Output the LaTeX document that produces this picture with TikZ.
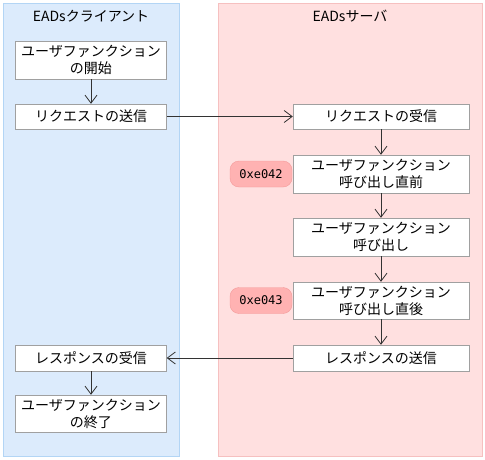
\documentclass[tikz,border=0pt]{standalone}
\usepackage{fontspec}
\setmainfont{Noto Sans CJK JP}
\newfontfamily\codefont{DejaVu Sans Mono}
\usetikzlibrary{arrows.meta}

\definecolor{clientfill}{HTML}{DCEBFC}
\definecolor{clientline}{HTML}{B3D5F5}
\definecolor{serverfill}{HTML}{FFE0E0}
\definecolor{serverline}{HTML}{F6C0C0}
\definecolor{codefill}{HTML}{FFB2B2}
\definecolor{codeline}{HTML}{F39A9A}
\definecolor{boxline}{HTML}{A0A0A0}

\begin{document}
\begin{tikzpicture}[x=1pt,y=-1pt,
  font=\fontsize{14}{17}\selectfont,
  stepbox/.style={draw=boxline,fill=white,inner sep=0pt,align=center,
    minimum height=25pt},
  clientbox/.style={stepbox,minimum width=151pt},
  serverbox/.style={stepbox,minimum width=176pt},
  codebox/.style={draw=codeline,fill=codefill,rounded corners=9pt,
    minimum width=62pt,minimum height=26pt,inner sep=0pt,
    font=\codefont\fontsize{12}{14}\selectfont},
  flow/.style={draw=black!80,line width=0.8pt,
    -{Straight Barb[length=8pt,width=12pt,line width=0.8pt]}}]

\useasboundingbox (0,0) rectangle (485,460);

% panels
\draw[fill=clientfill,draw=clientline] (3,3) rectangle (179,456);
\draw[fill=serverfill,draw=serverline] (218,3) rectangle (482,456);

\node (clienttitle) at (91,16) {EADsクライアント};
\node (servertitle) at (350,16) {EADsサーバ};

% client side
\node[clientbox,minimum height=38pt] (ufstart) at (91,60) {ユーザファンクション\\の開始};
\node[clientbox] (reqsend) at (91,116.5) {リクエストの送信};
\node[clientbox,minimum height=26pt] (resrecv) at (91,358) {レスポンスの受信};
\node[clientbox,minimum height=37pt] (ufend) at (91,413.5) {ユーザファンクション\\の終了};

% server side
\node[serverbox] (reqrecv) at (381,116.5) {リクエストの受信};
\node[serverbox,minimum height=38pt] (callbefore) at (381,174) {ユーザファンクション\\呼び出し直前};
\node[serverbox,minimum height=38pt] (call) at (381,237) {ユーザファンクション\\呼び出し};
\node[serverbox,minimum height=37pt] (callafter) at (381,300.5) {ユーザファンクション\\呼び出し直後};
\node[serverbox,minimum height=26pt] (ressend) at (381,358) {レスポンスの送信};

\node[codebox] (before) at (261,174) {0xe042};
\node[codebox] (after) at (261,300.5) {0xe043};

% arrows
\draw[flow] (ufstart) -- (reqsend);
\draw[flow] (reqsend) -- (reqrecv);
\draw[flow] (reqrecv) -- (callbefore);
\draw[flow] (callbefore) -- (call);
\draw[flow] (call) -- (callafter);
\draw[flow] (callafter) -- (ressend);
\draw[flow] (ressend) -- (resrecv);
\draw[flow] (resrecv) -- (ufend);

\end{tikzpicture}
\end{document}
